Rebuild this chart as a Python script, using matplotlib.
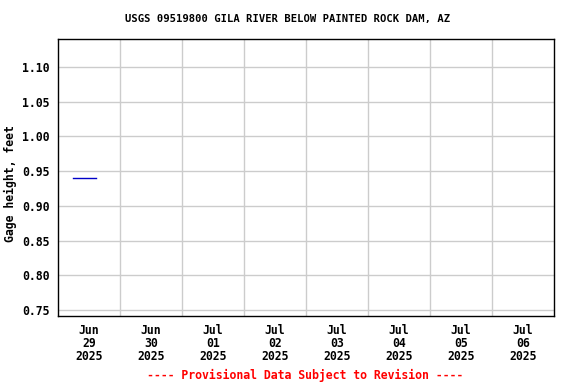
import datetime as dt
import matplotlib
matplotlib.use("Agg")
import matplotlib.pyplot as plt

# Gage height readings (feet)
times = [dt.datetime(2025, 6, 29, 5, 45), dt.datetime(2025, 6, 29, 8, 0),
         dt.datetime(2025, 6, 29, 11, 0), dt.datetime(2025, 6, 29, 14, 45)]
gage_height = [0.94, 0.94, 0.94, 0.94]

day_labels = ["Jun\n29\n2025", "Jun\n30\n2025", "Jul\n01\n2025", "Jul\n02\n2025",
              "Jul\n03\n2025", "Jul\n04\n2025", "Jul\n05\n2025", "Jul\n06\n2025"]
y_ticks = [0.75, 0.80, 0.85, 0.90, 0.95, 1.00, 1.05, 1.10]

font = "DejaVu Sans Mono"

fig = plt.figure(figsize=(5.76, 3.84), dpi=100)
ax = fig.add_axes([0.1007, 0.1771, 0.8611, 0.7213])

ax.plot(times, gage_height, color="#0000c8", linewidth=1)

start = dt.datetime(2025, 6, 29)
ax.set_xlim(start, start + dt.timedelta(days=8))
ax.set_ylim(0.7413, 1.1403)

# gridlines at midnight, labels at noon
ax.set_xticks([start + dt.timedelta(days=i) for i in range(1, 8)])
ax.set_xticklabels([])
ax.set_xticks([start + dt.timedelta(days=i, hours=12) for i in range(8)], minor=True)
ax.set_xticklabels(day_labels, minor=True, fontfamily=font, fontweight="bold",
                   fontsize=8.3, linespacing=1.0)
ax.tick_params(axis="x", which="both", length=0, pad=5.5)

ax.set_yticks(y_ticks)
ax.set_yticklabels([f"{v:.2f}" for v in y_ticks], fontfamily=font, fontweight="bold", fontsize=8.3)
ax.tick_params(axis="y", length=0, pad=6)

ax.grid(True, which="major", color="#cccccc", linewidth=1)
ax.set_axisbelow(True)
for s in ax.spines.values():
    s.set_linewidth(1)

fig.text(0.019, 0.522, "Gage height, feet", rotation=90, ha="center", va="center",
         fontfamily=font, fontweight="bold", fontsize=8.3)
fig.text(0.5, 0.951, "USGS 09519800 GILA RIVER BELOW PAINTED ROCK DAM, AZ",
         ha="center", va="center", fontfamily=font, fontweight="bold", fontsize=7.6)
fig.text(0.53, 0.023, "---- Provisional Data Subject to Revision ----",
         ha="center", va="center", fontfamily=font, fontweight="bold", fontsize=8.3, color="red")

fig.savefig("out.png", dpi=100)
